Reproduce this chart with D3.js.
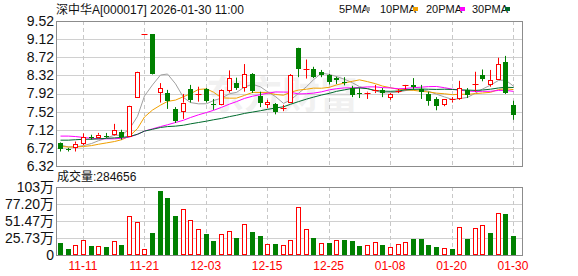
<!DOCTYPE html>
<html><head><meta charset="utf-8">
<script src="https://cdn.jsdelivr.net/npm/d3@7/dist/d3.min.js"></script>
<style>
html,body{margin:0;padding:0;background:#fff;}
svg{display:block;}
text{font-family:"Liberation Sans","Noto Sans CJK SC",sans-serif;}
</style></head>
<body>
<svg id="c" width="578" height="276"></svg>
<script>
// ---------- data ----------
const titleText = "深中华A[000017] 2026-01-30 11:00";
const volLabel = "成交量:284656";
const dates = ["11-06","11-07","11-10","11-11","11-12","11-13","11-14","11-17","11-18","11-19","11-20","11-21","11-24","11-25","11-26","11-27","11-28",
"12-01","12-02","12-03","12-04","12-05","12-08","12-09","12-10","12-11","12-12","12-15","12-16","12-17","12-18","12-19","12-22","12-23","12-24","12-25","12-26","12-29","12-30","12-31",
"01-05","01-06","01-07","01-08","01-09","01-12","01-13","01-14","01-15","01-16","01-19","01-20","01-21","01-22","01-23","01-26","01-27","01-28","01-29","01-30"];
const open  = [6.82,6.69,6.73,6.83,6.97,6.96,6.99,7.03,7.07,6.99,7.85,9.23,9.23,7.95,7.93,7.57,7.53,8.02,7.89,8.02,7.69,7.69,7.99,8.15,8.07,8.35,7.87,7.68,7.69,7.58,7.74,8.92,8.44,8.45,8.40,8.32,8.26,8.17,8.04,7.94,7.92,7.97,8.00,7.84,7.97,8.09,8.10,8.03,7.91,7.80,7.69,7.77,7.81,8.00,8.11,8.33,8.13,8.25,8.61,7.67];
const high  = [6.84,6.72,6.86,7.04,7.01,7.05,7.05,7.25,7.12,7.65,8.40,9.23,9.23,8.15,8.00,7.62,7.91,8.11,8.07,8.04,7.80,8.01,8.43,8.27,8.57,8.37,7.96,7.78,7.71,7.67,8.35,8.93,8.67,8.51,8.44,8.35,8.29,8.28,8.09,8.04,7.96,8.11,8.04,7.93,8.02,8.11,8.26,8.11,7.96,7.84,7.80,7.84,8.20,8.04,8.40,8.45,8.44,8.71,8.75,7.76];
const low   = [6.64,6.64,6.64,6.78,6.90,6.93,6.94,6.99,6.90,6.98,7.84,9.23,8.34,7.72,7.58,7.27,7.36,7.72,7.74,7.72,7.56,7.66,7.94,8.00,7.96,7.93,7.62,7.60,7.46,7.53,7.71,8.28,8.25,8.26,8.28,8.12,8.13,8.10,7.84,7.82,7.80,7.93,7.84,7.78,7.93,7.99,8.00,7.80,7.65,7.55,7.64,7.72,7.78,7.82,7.96,8.19,8.07,8.22,7.91,7.34];
const close = [6.70,6.68,6.81,6.96,6.93,7.01,6.98,7.12,6.95,7.64,8.39,9.23,8.34,8.04,7.75,7.31,7.72,7.78,7.90,7.76,7.66,7.99,8.26,8.05,8.35,7.97,7.70,7.73,7.51,7.60,8.33,8.45,8.46,8.28,8.33,8.18,8.22,8.16,7.89,7.91,7.94,7.99,7.94,7.91,7.98,8.10,8.07,7.95,7.75,7.65,7.80,7.79,8.04,7.89,8.13,8.24,8.22,8.56,7.94,7.45];
// volume in 万 (10k shares)
const volume = [18.1,9.0,14.6,22.6,13.6,13.1,12.0,21.1,15.1,59.7,50.7,8.5,33.1,96.4,86.3,58.7,70.3,53.7,38.7,31.6,21.1,31.1,36.1,25.6,47.7,34.6,28.6,16.1,16.6,14.6,22.6,73.3,38.7,25.6,18.1,18.1,22.6,22.6,21.1,13.6,14.6,19.6,15.1,11.5,16.1,19.1,24.1,24.1,15.1,12.0,10.0,9.0,41.7,24.1,40.2,44.7,33.1,64.3,61.7,28.47];
// volume direction vs previous close: 1 = up (red), 0 = down (green)
const volUp = [0,0,1,1,0,1,0,1,0,1,1,1,0,0,0,0,1,1,1,0,0,1,1,0,1,0,0,1,0,1,1,1,1,0,1,0,1,0,0,0,1,1,0,1,1,1,0,0,0,0,1,0,1,0,1,1,0,1,0,0];
const ma5  = [6.78,6.74,6.74,6.77,6.816,6.878,6.938,7.000,6.998,7.140,7.416,7.866,8.110,8.328,8.350,8.134,7.832,7.720,7.692,7.694,7.764,7.818,7.914,7.944,8.062,8.124,8.066,7.960,7.852,7.702,7.774,7.924,8.070,8.224,8.370,8.340,8.294,8.234,8.156,8.072,8.024,7.978,7.934,7.938,7.952,7.984,8.000,8.002,7.970,7.904,7.844,7.788,7.806,7.834,7.930,8.018,8.104,8.208,8.218,8.082];
const ma10 = [6.75,6.74,6.74,6.75,6.77,6.80,6.83,6.86,6.90,6.978,7.147,7.402,7.555,7.663,7.745,7.775,7.849,7.915,8.010,8.022,7.949,7.825,7.817,7.818,7.878,7.944,7.942,7.937,7.898,7.882,7.949,7.995,8.015,8.038,8.036,8.057,8.109,8.152,8.190,8.221,8.182,8.136,8.084,8.047,8.012,8.004,7.989,7.968,7.954,7.928,7.914,7.894,7.904,7.902,7.917,7.931,7.946,8.007,8.026,8.006];
const ma20 = [6.98,6.98,6.97,6.95,6.93,6.92,6.92,6.92,6.93,6.96,7.02,7.09,7.14,7.19,7.23,7.28,7.33,7.39,7.45,7.500,7.548,7.614,7.686,7.741,7.812,7.860,7.896,7.926,7.954,7.952,7.949,7.910,7.916,7.928,7.957,8.001,8.026,8.045,8.044,8.052,8.066,8.066,8.050,8.043,8.024,8.031,8.049,8.060,8.072,8.075,8.048,8.015,7.994,7.975,7.965,7.968,7.968,7.988,7.990,7.967];
const ma30 = [6.89,6.89,6.90,6.91,6.91,6.92,6.93,6.94,6.95,6.97,7.02,7.09,7.13,7.17,7.19,7.20,7.22,7.25,7.28,7.31,7.34,7.37,7.41,7.44,7.48,7.51,7.54,7.57,7.60,7.627,7.682,7.741,7.796,7.840,7.886,7.925,7.967,8.001,8.033,8.042,8.027,7.985,7.972,7.968,7.975,8.002,8.013,8.019,8.014,8.010,8.015,8.008,8.001,7.996,7.988,7.997,8.015,8.042,8.057,8.052];
const priceTicks = [9.52,9.12,8.72,8.32,7.92,7.52,7.12,6.72,6.32];
const volTicks = [0,25.73,51.47,77.20,103];
const volTickLabels = ["0","25.73万","51.47万","77.20万","103万"];
const xTickLabels = ["11-11","11-21","12-03","12-15","12-25","01-08","01-20","01-30"];
const maNames = ["5PMA","10PMA","20PMA","30PMA"];

// ---------- layout ----------
const svg = d3.select("#c");
const L = 56, R = 522;
const pTop = 21, pBot = 166;
const vTop = 187, vBot = 255;
const UP = "#ff0000", DN = "#008000";
const maColors = ["#a0a0a0","#f0a000","#ff00ff","#006b2d"];

const x = d3.scaleBand().domain(dates).range([L, L + dates.length * 7.68]).padding(0);
const cx = d => Math.round(x(d) + x.bandwidth() / 2);
const yP = d3.scaleLinear().domain([6.32, 9.52]).range([pBot, pTop]);
const yV = d3.scaleLinear().domain([0, 103]).range([vBot, vTop]);

// watermark
svg.append("text").attr("x", 282).attr("y", 108).attr("text-anchor", "middle")
  .style("font-family", "'Noto Sans CJK SC',sans-serif").style("font-size", "38px").style("font-weight", "bold")
  .attr("fill", "#000").attr("opacity", 0.05).text("东方财富");

// grids
function hgrid(scale, ticks) {
  svg.append("g").selectAll("line").data(ticks).join("line")
    .attr("x1", L).attr("x2", R)
    .attr("y1", d => Math.round(scale(d)) + 0.5).attr("y2", d => Math.round(scale(d)) + 0.5)
    .attr("stroke", "#d0d0d0").attr("stroke-width", 1);
}
hgrid(yP, priceTicks);
hgrid(yV, volTicks);
function vgrid(t, b) {
  svg.append("g").selectAll("line").data(xTickLabels).join("line")
    .attr("x1", d => cx(d) + 0.5).attr("x2", d => cx(d) + 0.5)
    .attr("y1", t).attr("y2", b)
    .attr("stroke", "#c8c8c8").attr("stroke-dasharray", "4,3").attr("stroke-width", 1);
}
vgrid(pTop, pBot);
vgrid(vTop, vBot);

// MA lines
const mas = [ma5, ma10, ma20, ma30];
mas.forEach((arr, k) => {
  const line = d3.line().x((d, i) => cx(dates[i]) + 0.5).y(d => yP(d));
  svg.append("path").datum(arr).attr("d", line)
    .attr("fill", "none").attr("stroke", maColors[k]).attr("stroke-width", 1);
});

// candles
const cg = svg.append("g");
dates.forEach((d, i) => {
  const px = cx(d) + 0.5;
  const o = open[i], c = close[i], h = high[i], l = low[i];
  const up = c > o || (c === o && volUp[i] === 1);
  const col = up ? UP : DN;
  const top = yP(Math.max(o, c)), bot = yP(Math.min(o, c));
  if (up) {
    cg.append("line").attr("x1", px).attr("x2", px).attr("y1", yP(h)).attr("y2", top).attr("stroke", col);
    cg.append("line").attr("x1", px).attr("x2", px).attr("y1", bot).attr("y2", yP(l)).attr("stroke", col);
    if (bot - top < 1) {
      cg.append("line").attr("x1", px - 3).attr("x2", px + 3).attr("y1", Math.round(top) + 0.5).attr("y2", Math.round(top) + 0.5).attr("stroke", col);
    } else {
      cg.append("rect").attr("x", px - 2).attr("y", Math.round(top) + 0.5).attr("width", 4)
        .attr("height", Math.max(1, Math.round(bot) - Math.round(top))).attr("fill", "#fff").attr("stroke", col);
    }
  } else {
    cg.append("line").attr("x1", px).attr("x2", px).attr("y1", yP(h)).attr("y2", yP(l)).attr("stroke", col);
    cg.append("rect").attr("x", px - 2.5).attr("y", Math.round(top)).attr("width", 5)
      .attr("height", Math.max(1, Math.round(bot) - Math.round(top))).attr("fill", col);
  }
});

// volume bars
const vg = svg.append("g");
dates.forEach((d, i) => {
  const px = cx(d) + 0.5;
  const yt = Math.round(yV(volume[i]));
  if (volUp[i]) {
    vg.append("rect").attr("x", px - 2).attr("y", yt + 0.5).attr("width", 4).attr("height", Math.max(1, vBot - yt - 1))
      .attr("fill", "#fff").attr("stroke", UP);
  } else {
    vg.append("rect").attr("x", px - 2.5).attr("y", yt).attr("width", 5).attr("height", vBot - yt).attr("fill", DN);
  }
});

// frames
svg.append("rect").attr("x", L + 0.5).attr("y", pTop + 0.5).attr("width", R - L).attr("height", pBot - pTop)
  .attr("fill", "none").attr("stroke", "#8c8c8c");
svg.append("rect").attr("x", L + 0.5).attr("y", vTop + 0.5).attr("width", R - L).attr("height", vBot - vTop)
  .attr("fill", "none").attr("stroke", "#8c8c8c");

// axes labels
const pAxis = d3.axisLeft(yP).tickValues(priceTicks).tickFormat(d3.format(".2f")).tickSize(0).tickPadding(2);
const ga = svg.append("g").attr("transform", `translate(${L},0)`).call(pAxis);
ga.select(".domain").remove();
ga.selectAll("text").style("font-size", "14px").attr("fill", "#111").attr("dy", "0.32em");

const vAxis = d3.axisLeft(yV).tickValues(volTicks).tickFormat((d, i) => volTickLabels[i]).tickSize(0).tickPadding(2);
const gv = svg.append("g").attr("transform", `translate(${L},0)`).call(vAxis);
gv.select(".domain").remove();
gv.selectAll("text").style("font-size", "14px").attr("fill", "#111").attr("dy", "0.32em");

const xAxis = d3.axisBottom(x).tickValues(xTickLabels).tickSize(0).tickPadding(6);
const gx = svg.append("g").attr("transform", `translate(0,${vBot})`).call(xAxis);
gx.select(".domain").remove();
gx.selectAll("text").style("font-size", "12px").attr("fill", "#ff0000");

// title
svg.append("text").attr("x", 56).attr("y", 14).style("font-size", "12px").attr("fill", "#111").text(titleText);
svg.append("text").attr("x", 57).attr("y", 181).style("font-size", "12px").attr("fill", "#111").text(volLabel);

// legend
const legX = [339, 380, 426, 472];
const sqX = [365, 413, 460, 505];
maNames.forEach((n, k) => {
  svg.append("text").attr("x", legX[k]).attr("y", 13).style("font-size", "11px").attr("fill", "#111").text(n);
  svg.append("rect").attr("x", sqX[k]).attr("y", 7).attr("width", 5).attr("height", 4).attr("fill", maColors[k]);
});
</script>
</body></html>
